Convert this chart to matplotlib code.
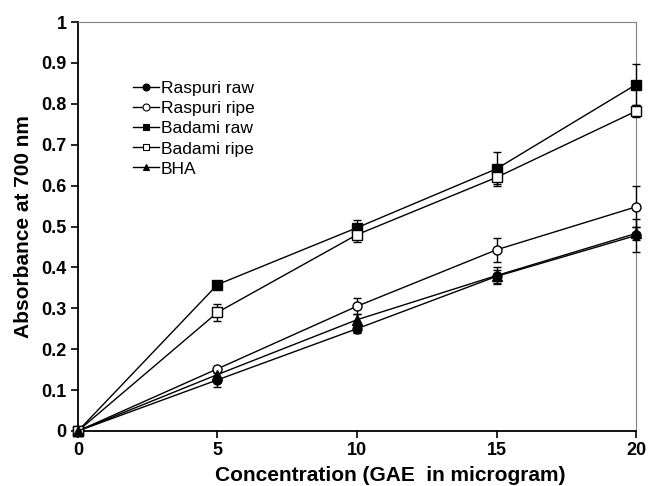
import matplotlib.pyplot as plt
from matplotlib.lines import Line2D
from matplotlib.ticker import FuncFormatter

plt.rcParams['font.family'] = ['Liberation Sans', 'DejaVu Sans']

conc = [0, 5, 10, 15, 20]

raspuri_raw = [0, 0.125, 0.250, 0.378, 0.478]
raspuri_raw_err = [0, 0.017, 0.010, 0.015, 0.040]
raspuri_ripe = [0, 0.152, 0.305, 0.443, 0.548]
raspuri_ripe_err = [0, 0.005, 0.020, 0.030, 0.050]
badami_raw = [0, 0.358, 0.497, 0.641, 0.847]
badami_raw_err = [0, 0.005, 0.018, 0.042, 0.050]
badami_ripe = [0, 0.290, 0.480, 0.620, 0.782]
badami_ripe_err = [0, 0.020, 0.018, 0.015, 0.015]
bha = [0, 0.138, 0.272, 0.380, 0.483]
bha_err = [0, 0.010, 0.015, 0.020, 0.015]

series = [
    ("Raspuri raw", raspuri_raw, raspuri_raw_err, 'o', 'black'),
    ("Raspuri ripe", raspuri_ripe, raspuri_ripe_err, 'o', 'white'),
    ("Badami raw", badami_raw, badami_raw_err, 's', 'black'),
    ("Badami ripe", badami_ripe, badami_ripe_err, 's', 'white'),
    ("BHA", bha, bha_err, '^', 'black'),
]

fig = plt.figure(figsize=(6.52, 4.86), dpi=100)
ax = fig.add_axes([0.1196, 0.1132, 0.8559, 0.8415])

handles = []
for name, vals, err, mk, fc in series:
    ax.errorbar(conc, vals, yerr=err, color='black', lw=1, marker=mk,
                 markersize=6.5, markerfacecolor=fc, markeredgecolor='black',
                 markeredgewidth=1, capsize=3, elinewidth=1, capthick=1,
                 clip_on=False, zorder=3)
    handles.append(Line2D([], [], color='black', lw=1, marker=mk, markersize=5,
                          markerfacecolor=fc, markeredgecolor='black',
                          markeredgewidth=0.8, label=name))

ax.set_xlim(0, 20)
ax.set_ylim(0, 1)
ax.set_xticks(conc)
ax.set_yticks([i / 10 for i in range(11)])
ax.yaxis.set_major_formatter(FuncFormatter(lambda v, p: f"{v:g}"))

for s in ['top', 'right']:
    ax.spines[s].set_color('#808080')
    ax.spines[s].set_linewidth(0.8)
for s in ['left', 'bottom']:
    ax.spines[s].set_linewidth(1.3)
ax.tick_params(direction='out', length=5, width=1.2, labelsize=13, pad=3)
for lab in ax.get_xticklabels() + ax.get_yticklabels():
    lab.set_fontweight('bold')

ax.set_xlabel("Concentration (GAE  in microgram)", fontsize=15, fontweight='bold', labelpad=6)
ax.xaxis.set_label_coords(0.56, -0.085)
ax.set_ylabel("Absorbance at 700 nm", fontsize=15, fontweight='bold', labelpad=6)

ax.legend(handles=handles, loc='upper left', bbox_to_anchor=(0.086, 0.872),
          frameon=False, fontsize=12.5, handlelength=1.5, handletextpad=0.1,
          labelspacing=0.28, borderaxespad=0)

fig.savefig("out.png", dpi=100)
